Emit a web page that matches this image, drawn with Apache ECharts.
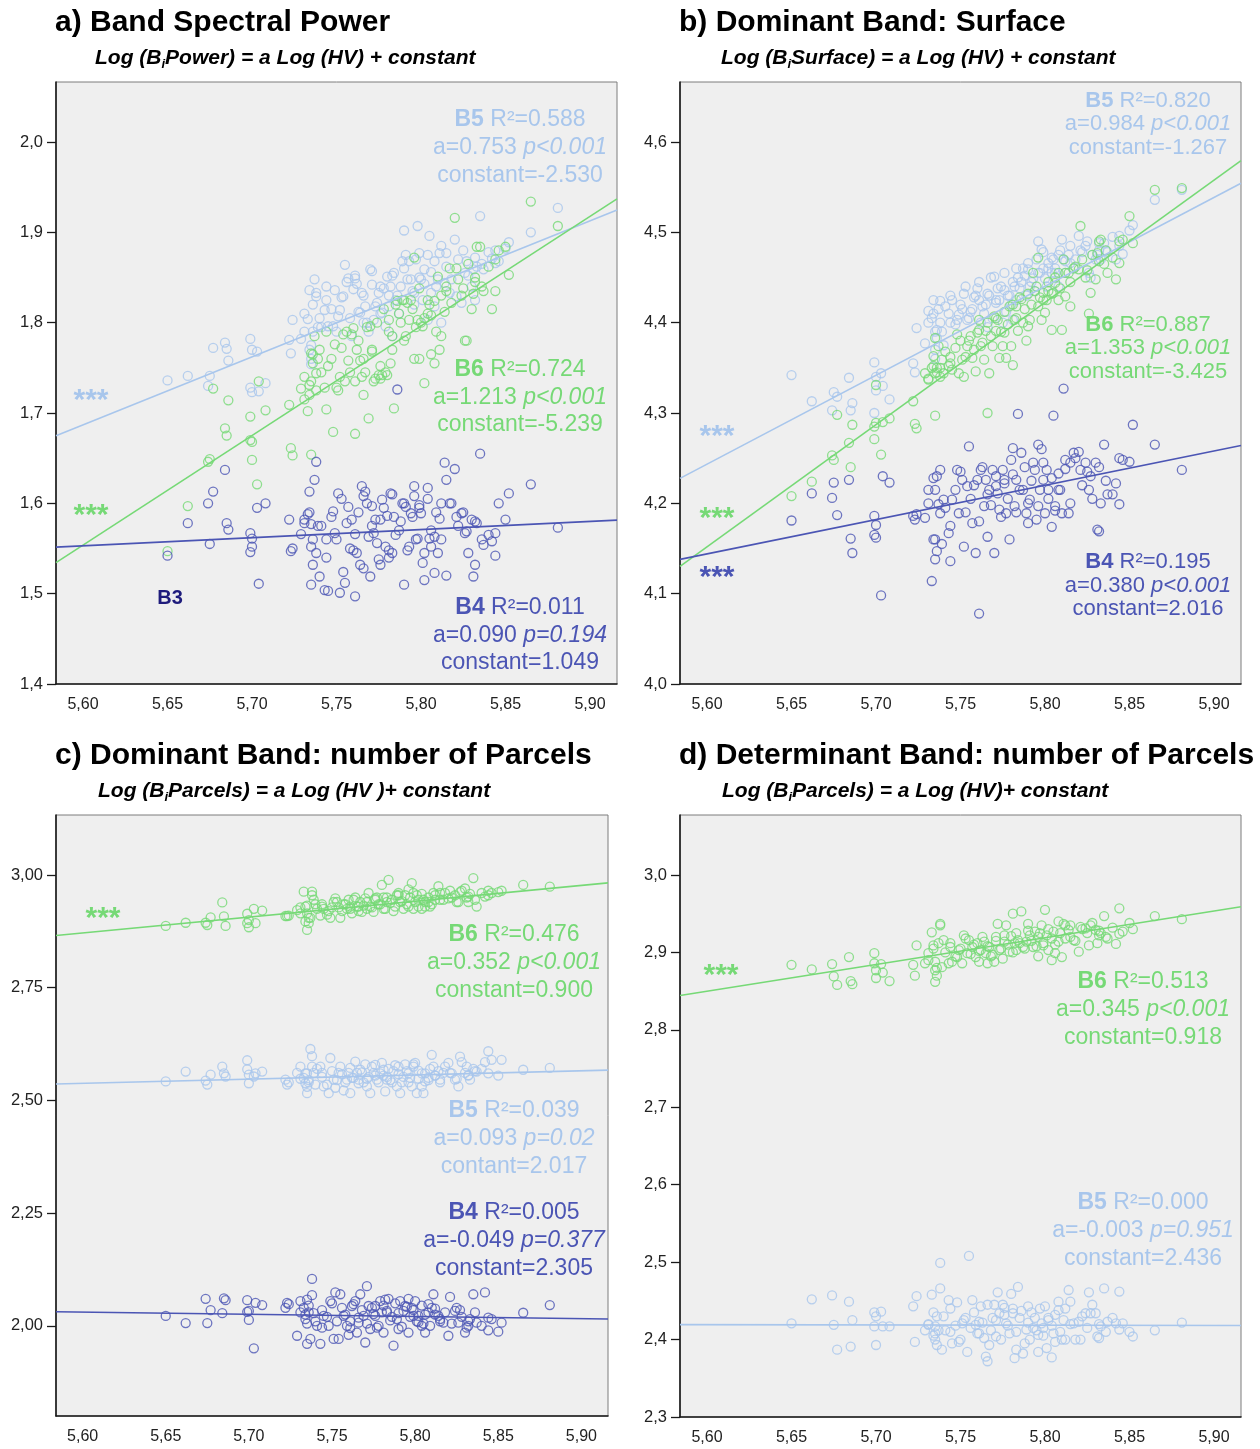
<!DOCTYPE html>
<html><head><meta charset="utf-8">
<script src="https://cdn.jsdelivr.net/npm/echarts@6/dist/echarts.min.js"></script>
<style>html,body{margin:0;padding:0;background:#fff}#c{width:1260px;height:1449px}</style>
</head><body><div id="c"></div>
<script>
// ---- shared HV values (x) ----
const hv = [
5.650,5.662,5.674,5.675,5.677,5.684,5.685,5.686,
5.699,5.699,5.700,5.700,5.703,5.704,5.708,
5.722,5.723,5.724,5.729,5.731,5.733,5.734,5.735,5.735,5.735,5.736,5.737,5.738,5.738,5.739,
5.740,5.743,5.744,5.745,5.748,5.749,5.751,5.752,5.754,5.755,5.757,5.759,5.760,5.761,5.762,5.764,5.765,5.766,5.767,5.769,
5.770,5.771,5.772,5.773,5.775,5.776,5.777,5.779,5.780,5.781,5.782,5.783,5.784,5.786,5.787,5.789,
5.790,5.791,5.793,5.794,5.796,5.796,5.798,5.799,5.800,5.801,5.802,5.804,5.805,5.806,5.808,5.808,
5.810,5.811,5.812,5.814,5.815,5.817,5.820,5.821,5.824,5.826,5.827,5.830,5.831,5.832,5.833,5.835,5.837,
5.842,5.844,5.844,5.846,5.850,5.852,5.865,5.881,
5.731,5.734,5.736,5.741,5.744,5.747,5.750,5.753,5.756,5.758,5.761,5.763,5.766,5.768,5.771,5.774,5.776,5.778,5.781,5.783,
5.785,5.788,5.790,5.792,5.795,5.797,5.799,5.802,5.804,5.806,5.809,5.812,5.815,5.818,5.822,5.825,5.828,5.832,5.836,5.840];

// ---- a) Band Spectral Power ----
const powerB4 = [
1.542,1.578,1.600,1.555,1.613,1.637,1.578,1.571,
1.567,1.546,1.561,1.552,1.595,1.511,1.600,
1.582,1.547,1.550,1.566,1.582,1.588,1.613,1.510,1.552,1.577,1.532,1.626,1.646,1.545,1.575,
1.519,1.504,1.560,1.503,1.591,1.567,1.611,1.501,1.524,1.512,1.596,1.582,1.548,1.497,1.545,1.532,1.619,1.608,1.613,1.563,
1.519,1.597,1.567,1.582,1.538,1.532,1.604,1.552,1.586,1.548,1.611,1.545,1.585,1.726,1.570,1.600,
1.510,1.596,1.552,1.589,1.619,1.608,1.561,1.595,1.589,1.534,1.515,1.617,1.561,1.552,1.563,1.523,
1.545,1.583,1.600,1.645,1.626,1.600,1.638,1.585,1.589,1.567,1.569,1.582,1.519,1.532,1.578,1.655,1.554,
1.558,1.567,1.542,1.600,1.582,1.611,1.621,1.573,
1.578,1.590,1.560,1.575,1.540,1.585,1.560,1.605,1.578,1.550,1.566,1.590,1.528,1.600,1.575,1.556,1.582,1.595,1.540,1.610,
1.565,1.580,1.600,1.548,1.585,1.560,1.598,1.545,1.605,1.570,1.590,1.560,1.520,1.600,1.575,1.590,1.545,1.580,1.560,1.565];
const powerB5 = [
1.736,1.741,1.730,1.741,1.772,1.778,1.771,1.758,
1.782,1.728,1.770,1.723,1.768,1.724,1.733,
1.781,1.766,1.803,1.782,1.790,1.804,1.836,1.754,1.775,1.760,1.790,1.848,1.833,1.829,1.795,
1.805,1.814,1.825,1.796,1.796,1.836,1.807,1.814,1.829,1.864,1.849,1.785,1.837,1.849,1.843,1.811,1.833,1.800,1.818,1.790,
1.859,1.857,1.803,1.818,1.833,1.840,1.811,1.796,1.851,1.818,1.840,1.785,1.855,1.830,1.810,1.868,
1.902,1.875,1.868,1.848,1.833,1.820,1.907,1.877,1.848,1.825,1.859,1.803,1.896,1.833,1.818,1.868,
1.848,1.877,1.800,1.844,1.877,1.833,1.892,1.829,1.822,1.855,1.868,1.840,1.859,1.825,1.862,1.918,1.859,
1.871,1.880,1.866,1.868,1.882,1.889,1.900,1.927,
1.810,1.770,1.820,1.795,1.840,1.815,1.790,1.828,1.845,1.805,1.852,1.812,1.830,1.800,1.842,1.822,1.810,1.838,1.830,1.852,
1.825,1.840,1.860,1.848,1.835,1.870,1.850,1.843,1.875,1.856,1.840,1.885,1.862,1.848,1.870,1.880,1.852,1.872,1.865,1.878];
const powerB6 = [
1.547,1.597,1.646,1.649,1.727,1.683,1.675,1.714,
1.696,1.670,1.648,1.668,1.621,1.735,1.703,
1.709,1.661,1.653,1.727,1.715,1.702,1.731,1.654,1.766,1.735,1.755,1.785,1.744,1.725,1.760,
1.770,1.728,1.704,1.752,1.679,1.776,1.725,1.740,1.787,1.735,1.758,1.787,1.794,1.677,1.770,1.758,1.740,1.720,1.745,1.694,
1.796,1.770,1.735,1.738,1.742,1.738,1.742,1.745,1.742,1.803,1.755,1.785,1.705,1.824,1.810,1.825,
1.825,1.785,1.803,1.825,1.760,1.872,1.803,1.760,1.800,1.796,1.733,1.810,1.820,1.765,1.824,1.755,
1.851,1.770,1.785,1.812,1.835,1.860,1.916,1.860,1.830,1.780,1.780,1.815,1.832,1.845,1.884,1.884,1.835,
1.815,1.835,1.870,1.880,1.884,1.853,1.934,1.907,
1.740,1.720,1.765,1.745,1.790,1.760,1.728,1.772,1.790,1.745,1.735,1.780,1.760,1.795,1.768,1.800,1.752,1.815,1.790,1.770,
1.820,1.800,1.780,1.822,1.815,1.795,1.838,1.805,1.825,1.808,1.790,1.830,1.840,1.822,1.848,1.838,1.865,1.850,1.840,1.862];

// ---- b) Dominant Band: Surface ----
const surfB4 = [
4.181,4.211,4.206,4.223,4.187,4.226,4.161,4.145,
4.186,4.165,4.176,4.162,4.098,4.230,4.223,
4.186,4.182,4.188,4.184,4.215,4.114,4.228,4.138,4.160,4.215,4.147,4.199,4.237,4.189,4.155,
4.204,4.167,4.136,4.204,4.237,4.189,4.226,4.152,4.219,4.263,4.178,4.145,4.226,4.078,4.237,4.197,4.226,4.163,4.215,4.237,
4.145,4.219,4.211,4.193,4.237,4.226,4.189,4.160,4.248,4.261,4.197,4.226,4.299,4.256,4.215,4.189,
4.178,4.204,4.245,4.237,4.265,4.197,4.260,4.226,4.189,4.237,4.215,4.174,4.297,4.197,4.215,4.233,
4.189,4.327,4.248,4.189,4.245,4.256,4.257,4.237,4.245,4.215,4.230,4.245,4.171,4.169,4.200,4.265,4.210,
4.222,4.250,4.199,4.248,4.246,4.287,4.265,4.237,
4.200,4.160,4.230,4.195,4.175,4.215,4.235,4.190,4.205,4.220,4.180,4.240,4.210,4.198,4.230,4.185,4.222,4.205,4.232,4.190,
4.215,4.240,4.200,4.225,4.182,4.215,4.245,4.205,4.228,4.192,4.215,4.238,4.200,4.250,4.220,4.235,4.205,4.240,4.225,4.210];
const surfB5 = [
4.342,4.313,4.303,4.323,4.318,4.339,4.303,4.311,
4.356,4.300,4.325,4.340,4.344,4.330,4.315,
4.355,4.345,4.394,4.377,4.413,4.405,4.425,4.390,4.360,4.370,4.383,4.415,4.424,4.400,4.390,
4.375,4.410,4.400,4.425,4.403,4.409,4.415,4.432,4.403,4.405,4.415,4.430,4.438,4.425,4.400,4.410,4.420,4.395,4.430,4.405,
4.451,4.422,4.438,4.425,4.400,4.436,4.412,4.430,4.420,4.403,4.440,4.425,4.450,4.445,4.460,4.430,
4.459,4.440,4.449,4.435,4.490,4.455,4.481,4.460,4.449,4.440,4.466,4.455,4.470,4.460,4.440,4.475,
4.492,4.470,4.455,4.475,4.466,4.460,4.496,4.480,4.485,4.455,4.450,4.470,4.475,4.480,4.470,4.488,4.478,
4.470,4.496,4.485,4.476,4.502,4.508,4.536,4.547,
4.400,4.410,4.392,4.418,4.430,4.398,4.420,4.440,4.412,4.428,4.445,4.418,4.432,4.450,4.425,4.440,4.455,4.430,4.445,4.460,
4.438,4.452,4.466,4.445,4.470,4.455,4.478,4.460,4.472,4.455,4.480,4.468,4.485,4.470,4.478,4.490,4.475,4.488,4.480,4.495];
const surfB6 = [
4.208,4.224,4.253,4.248,4.298,4.267,4.240,4.287,
4.285,4.271,4.289,4.331,4.254,4.290,4.294,
4.313,4.288,4.283,4.344,4.337,4.350,4.363,4.297,4.383,4.344,4.350,4.374,4.340,4.350,4.359,
4.344,4.352,4.362,4.348,4.387,4.344,4.359,4.340,4.374,4.380,4.361,4.346,4.389,4.403,4.374,4.359,4.391,4.300,4.344,4.374,
4.407,4.391,4.403,4.361,4.374,4.389,4.361,4.418,4.374,4.353,4.403,4.418,4.391,4.426,4.400,4.380,
4.396,4.403,4.455,4.435,4.418,4.472,4.403,4.433,4.411,4.425,4.435,4.392,4.433,4.444,4.425,4.455,
4.392,4.470,4.429,4.455,4.418,4.460,4.459,4.507,4.450,4.410,4.433,4.448,4.477,4.490,4.492,4.465,4.455,
4.448,4.466,4.490,4.492,4.518,4.488,4.547,4.549,
4.338,4.352,4.345,4.368,4.355,4.372,4.380,4.362,4.385,4.370,4.392,4.378,4.400,4.385,4.405,4.390,4.412,4.398,4.420,4.405,
4.428,4.415,4.432,4.420,4.440,4.428,4.425,4.445,4.432,4.450,4.438,4.455,4.445,4.462,4.470,4.458,4.475,4.468,4.480,4.472];

// ---- c) Dominant Band: number of Parcels ----
const parcB4 = [
2.022,2.006,2.060,2.006,2.035,2.028,2.061,2.057,
2.057,2.031,2.013,2.033,1.950,2.051,2.046,
2.040,2.051,2.048,1.978,2.055,2.040,2.025,2.058,1.960,2.005,2.030,1.971,2.104,2.068,2.028,
2.010,1.960,1.996,2.022,2.000,2.055,1.971,2.074,1.971,2.070,2.022,2.000,1.980,2.010,2.044,2.055,1.985,2.007,2.070,2.022,
1.963,2.088,2.044,1.993,2.026,2.044,1.996,2.055,2.030,1.985,2.058,2.033,2.060,2.020,1.956,2.015,
1.993,2.055,2.033,2.044,1.985,2.060,2.040,2.022,2.055,2.010,2.022,2.000,2.005,1.985,2.030,2.048,
2.040,2.070,2.025,2.022,2.010,2.007,1.978,2.064,2.033,2.007,2.035,1.985,1.996,2.000,2.015,2.070,2.007,
2.074,2.018,1.990,2.015,1.987,2.007,2.029,2.046,
2.030,2.015,2.045,2.000,2.035,2.020,2.050,2.010,2.040,2.025,1.995,2.048,2.018,2.035,2.005,2.040,2.022,2.000,2.045,2.030,
2.012,2.050,2.028,1.998,2.042,2.020,2.035,2.008,2.045,2.025,2.000,2.038,2.015,2.030,2.005,2.040,2.020,2.010,2.030,2.000];
const parcB5 = [
2.542,2.564,2.544,2.535,2.557,2.575,2.560,2.553,
2.589,2.569,2.538,2.557,2.553,2.560,2.564,
2.546,2.535,2.540,2.561,2.575,2.550,2.538,2.516,2.560,2.530,2.545,2.614,2.598,2.575,2.561,
2.535,2.575,2.561,2.531,2.516,2.594,2.546,2.528,2.561,2.575,2.522,2.546,2.561,2.516,2.550,2.586,2.561,2.546,2.568,2.540,
2.580,2.531,2.552,2.516,2.561,2.579,2.546,2.560,2.583,2.555,2.520,2.546,2.570,2.540,2.565,2.531,
2.575,2.516,2.552,2.580,2.540,2.560,2.531,2.575,2.583,2.516,2.566,2.531,2.516,2.560,2.550,2.545,
2.601,2.575,2.555,2.565,2.546,2.561,2.583,2.561,2.546,2.531,2.597,2.561,2.575,2.556,2.546,2.570,2.564,
2.585,2.609,2.560,2.590,2.555,2.590,2.568,2.572,
2.548,2.560,2.540,2.570,2.552,2.535,2.565,2.545,2.558,2.540,2.572,2.550,2.538,2.562,2.548,2.575,2.555,2.540,2.568,2.552,
2.545,2.578,2.558,2.540,2.565,2.550,2.580,2.548,2.560,2.542,2.570,2.555,2.540,2.575,2.560,2.548,2.585,2.555,2.565,2.570];
const parcB6 = [
2.887,2.894,2.894,2.889,2.906,2.939,2.908,2.887,
2.914,2.893,2.884,2.900,2.925,2.893,2.921,
2.909,2.909,2.910,2.922,2.928,2.963,2.897,2.932,2.878,2.915,2.893,2.905,2.963,2.955,2.945,
2.935,2.910,2.930,2.925,2.920,2.905,2.940,2.948,2.928,2.905,2.935,2.925,2.945,2.930,2.915,2.950,2.930,2.920,2.940,2.932,
2.948,2.925,2.960,2.930,2.918,2.945,2.950,2.935,2.978,2.950,2.925,2.940,2.989,2.945,2.920,2.955,
2.960,2.940,2.925,2.955,2.930,2.968,2.982,2.960,2.940,2.955,2.930,2.925,2.945,2.930,2.950,2.940,
2.935,2.960,2.945,2.975,2.960,2.945,2.948,2.965,2.955,2.940,2.962,2.970,2.950,2.940,2.958,2.993,2.930,
2.952,2.965,2.955,2.960,2.962,2.965,2.978,2.974,
2.915,2.930,2.905,2.925,2.935,2.912,2.928,2.940,2.920,2.935,2.925,2.945,2.930,2.918,2.940,2.928,2.948,2.935,2.925,2.950,
2.938,2.930,2.955,2.942,2.935,2.950,2.925,2.945,2.958,2.940,2.930,2.955,2.945,2.960,2.950,2.940,2.965,2.952,2.945,2.960];

// ---- d) Determinant Band: number of Parcels ----
const detB5 = [
2.421,2.452,2.457,2.419,2.387,2.449,2.391,2.425,
2.435,2.417,2.393,2.430,2.436,2.417,2.417,
2.443,2.397,2.456,2.412,2.419,2.458,2.435,2.417,2.400,2.408,2.393,2.412,2.466,2.499,2.387,
2.430,2.451,2.410,2.395,2.448,2.397,2.421,2.425,2.384,2.508,2.451,2.419,2.408,2.423,2.443,2.402,2.378,2.372,2.393,2.428,
2.445,2.404,2.461,2.434,2.445,2.441,2.421,2.408,2.459,2.434,2.376,2.387,2.468,2.437,2.382,2.413,
2.443,2.400,2.415,2.428,2.384,2.406,2.421,2.415,2.443,2.389,2.428,2.377,2.408,2.397,2.438,2.449,
2.400,2.425,2.400,2.464,2.449,2.421,2.423,2.400,2.434,2.461,2.434,2.434,2.404,2.402,2.417,2.466,2.423,
2.421,2.462,2.413,2.421,2.410,2.404,2.412,2.422,
2.420,2.405,2.430,2.412,2.440,2.418,2.400,2.428,2.415,2.435,2.408,2.422,2.445,2.412,2.425,2.400,2.432,2.418,2.440,2.410,
2.428,2.395,2.422,2.435,2.412,2.440,2.405,2.425,2.418,2.432,2.410,2.440,2.420,2.400,2.430,2.415,2.445,2.420,2.410,2.428];
const detB6 = [
2.884,2.878,2.885,2.869,2.858,2.894,2.863,2.859,
2.899,2.886,2.877,2.867,2.885,2.874,2.863,
2.884,2.870,2.909,2.886,2.899,2.926,2.909,2.888,2.877,2.862,2.870,2.912,2.937,2.935,2.881,
2.916,2.886,2.907,2.888,2.894,2.903,2.886,2.922,2.899,2.916,2.907,2.894,2.912,2.888,2.903,2.914,2.899,2.886,2.907,2.897,
2.888,2.920,2.937,2.903,2.892,2.914,2.935,2.901,2.921,2.950,2.912,2.903,2.916,2.953,2.907,2.914,
2.937,2.922,2.907,2.927,2.895,2.920,2.935,2.909,2.955,2.922,2.903,2.890,2.927,2.899,2.940,2.914,
2.894,2.937,2.918,2.929,2.935,2.916,2.901,2.933,2.931,2.909,2.935,2.929,2.912,2.922,2.925,2.947,2.918,
2.911,2.957,2.924,2.927,2.938,2.930,2.947,2.943,
2.890,2.905,2.880,2.900,2.912,2.895,2.905,2.918,2.898,2.910,2.902,2.920,2.908,2.895,2.915,2.905,2.922,2.910,2.900,2.925,
2.912,2.905,2.928,2.915,2.908,2.925,2.912,2.930,2.918,2.910,2.925,2.935,2.920,2.915,2.930,2.925,2.938,2.928,2.920,2.932];

// ---- regression fits [a, constant] ----
const fitPowerB4 = [0.090, 1.049], fitPowerB5 = [0.753, -2.530], fitPowerB6 = [1.213, -5.239];
const fitSurfB4 = [0.380, 2.016], fitSurfB5 = [0.984, -1.267], fitSurfB6 = [1.353, -3.425];
const fitParcB4 = [-0.049, 2.305], fitParcB5 = [0.093, 2.017], fitParcB6 = [0.352, 0.900];
const fitDetB5 = [-0.003, 2.436], fitDetB6 = [0.345, 0.918];

// ---- tick labels ----
const xTicks = [5.60, 5.65, 5.70, 5.75, 5.80, 5.85, 5.90];
const yTicksA = [1.4, 1.5, 1.6, 1.7, 1.8, 1.9, 2.0];
const yTicksB = [4.0, 4.1, 4.2, 4.3, 4.4, 4.5, 4.6];
const yTicksC = [2.00, 2.25, 2.50, 2.75, 3.00];
const yTicksD = [2.3, 2.4, 2.5, 2.6, 2.7, 2.8, 2.9, 3.0];

// ---- texts ----
const titleTexts = ['a) Band Spectral Power', 'b) Dominant Band: Surface',
  'c) Dominant Band: number of Parcels', 'd) Determinant Band: number of Parcels'];
const subtitleParts = [['Log (B', 'i', 'Power) = a Log (HV) + constant'],
  ['Log (B', 'i', 'Surface) = a Log (HV) + constant'],
  ['Log (B', 'i', 'Parcels) = a Log (HV )+ constant'],
  ['Log (B', 'i', 'Parcels) = a Log (HV)+ constant']];
const notePower = [['B5', 'R²=0.588', 'a=0.753', 'p<0.001', 'constant=-2.530'],
  ['B6', 'R²=0.724', 'a=1.213', 'p<0.001', 'constant=-5.239'],
  ['B4', 'R²=0.011', 'a=0.090', 'p=0.194', 'constant=1.049']];
const noteSurf = [['B5', 'R²=0.820', 'a=0.984', 'p<0.001', 'constant=-1.267'],
  ['B6', 'R²=0.887', 'a=1.353', 'p<0.001', 'constant=-3.425'],
  ['B4', 'R²=0.195', 'a=0.380', 'p<0.001', 'constant=2.016']];
const noteParc = [['B6', 'R²=0.476', 'a=0.352', 'p<0.001', 'constant=0.900'],
  ['B5', 'R²=0.039', 'a=0.093', 'p=0.02', 'contant=2.017'],
  ['B4', 'R²=0.005', 'a=-0.049', 'p=0.377', 'constant=2.305']];
const noteDet = [['B6', 'R²=0.513', 'a=0.345', 'p<0.001', 'constant=0.918'],
  ['B5', 'R²=0.000', 'a=-0.003', 'p=0.951', 'constant=2.436']];

// ---- styling / layout ----
const C4 = '#4b55b4', C5 = '#a8c6ec', C6 = '#76d976', C3 = '#1f1c7c';
const FONT = '"Liberation Sans", Arial, Helvetica, sans-serif';
const X_MIN = 5.584, X_MAX = 5.916;
const grids = [
  {left: 56, top: 82, width: 561, height: 602},
  {left: 680, top: 82, width: 561, height: 602},
  {left: 56, top: 815, width: 552, height: 601},
  {left: 680, top: 815, width: 561, height: 602}];
const yRanges = [[1.4, 2.0664], [4.0, 4.6664], [1.8, 3.133], [2.3, 3.0775]];
const yTickSets = [yTicksA, yTicksB, yTicksC, yTicksD];
const yDec = [1, 1, 2, 1];

const fmt = (v, d) => v.toFixed(d).replace('.', ',');

const option = {
  animation: false,
  backgroundColor: '#ffffff',
  grid: grids.map(g => Object.assign({}, g, {
    show: true, backgroundColor: '#efefef', borderColor: '#7d7d7d', borderWidth: 1,
    containLabel: false, outerBoundsMode: 'none'})),
  xAxis: grids.map((g, i) => ({
    type: 'value', gridIndex: i, min: X_MIN, max: X_MAX,
    axisLine: {show: true, onZero: false, lineStyle: {color: '#1a1a1a', width: 1.6}},
    axisTick: {show: false},
    splitLine: {show: false},
    axisLabel: {customValues: xTicks, formatter: v => fmt(v, 2), fontFamily: FONT, fontSize: 16,
      color: '#222', margin: 13}
  })),
  yAxis: grids.map((g, i) => ({
    type: 'value', gridIndex: i, min: yRanges[i][0], max: yRanges[i][1],
    axisLine: {show: true, onZero: false, lineStyle: {color: '#1a1a1a', width: 1.6}},
    axisTick: {show: true, length: 9, customValues: yTickSets[i], lineStyle: {color: '#1a1a1a', width: 1.3}},
    splitLine: {show: false},
    axisLabel: {customValues: yTickSets[i], formatter: v => fmt(v, yDec[i]), fontFamily: FONT,
      fontSize: 16.5, color: '#222', margin: 13}
  })),
  series: [],
  graphic: {elements: []}
};

function scatter(gi, ys, col) {
  return {type: 'scatter', xAxisIndex: gi, yAxisIndex: gi, silent: true, z: 2,
    data: hv.map((x, k) => [x, ys[k]]), symbol: 'circle', symbolSize: 9,
    itemStyle: {color: 'rgba(0,0,0,0)', borderColor: col, borderWidth: 1.3}};
}
function fitLine(gi, ab, col) {
  return {type: 'line', xAxisIndex: gi, yAxisIndex: gi, silent: true, z: 3, symbol: 'none',
    data: [[X_MIN, ab[0] * X_MIN + ab[1]], [X_MAX, ab[0] * X_MAX + ab[1]]],
    lineStyle: {color: col, width: 1.6}};
}
const S = option.series;
S.push(scatter(0, powerB5, C5), scatter(0, powerB6, C6), scatter(0, powerB4, C4));
S.push(fitLine(0, fitPowerB5, C5), fitLine(0, fitPowerB6, C6), fitLine(0, fitPowerB4, C4));
S.push(scatter(1, surfB5, C5), scatter(1, surfB6, C6), scatter(1, surfB4, C4));
S.push(fitLine(1, fitSurfB5, C5), fitLine(1, fitSurfB6, C6), fitLine(1, fitSurfB4, C4));
S.push(scatter(2, parcB6, C6), scatter(2, parcB5, C5), scatter(2, parcB4, C4));
S.push(fitLine(2, fitParcB6, C6), fitLine(2, fitParcB5, C5), fitLine(2, fitParcB4, C4));
S.push(scatter(3, detB6, C6), scatter(3, detB5, C5));
S.push(fitLine(3, fitDetB6, C6), fitLine(3, fitDetB5, C5));

const G = option.graphic.elements;
function text(x, y, str, st) {
  G.push({type: 'text', x: x, y: y, z: 100, silent: true,
    style: Object.assign({text: str, fontFamily: FONT, align: 'left', verticalAlign: 'middle',
      textAlign: 'left', textVerticalAlign: 'middle', fill: '#000'}, st)});
}
// titles
const titlePos = [[55, 23], [679, 23], [55, 756], [679, 756]];
const subPos = [[95, 58], [721, 58], [98, 791], [722, 791]];
titleTexts.forEach((t, i) => text(titlePos[i][0], titlePos[i][1], t,
  {fontSize: 30, fontWeight: 'bold', fill: '#000'}));
subtitleParts.forEach((p, i) => {
  text(subPos[i][0], subPos[i][1], '{m|' + p[0] + '}{s|' + p[1] + '}{m|' + p[2] + '}', {
    fontSize: 21, fontWeight: 'bold', fontStyle: 'italic',
    rich: {
      m: {fontFamily: FONT, fontSize: 21, fontWeight: 'bold', fontStyle: 'italic', fill: '#000', lineHeight: 26, verticalAlign: 'middle'},
      s: {fontFamily: FONT, fontSize: 13, fontWeight: 'bold', fontStyle: 'italic', fill: '#000', lineHeight: 26, verticalAlign: 'bottom'}
    }});
});
// annotations
const noteLayout = [
  {cx: 520, fs: 23, ys: [[120, 148, 176], [370, 398, 425], [608, 636, 663]], notes: notePower, cols: [C5, C6, C4]},
  {cx: 1148, fs: 22, ys: [[101, 124, 148], [325, 348, 372], [562, 586, 609]], notes: noteSurf, cols: [C5, C6, C4]},
  {cx: 514, fs: 23, ys: [[935, 963, 991], [1111, 1139, 1167], [1213, 1241, 1269]], notes: noteParc, cols: [C6, C5, C4]},
  {cx: 1143, fs: 23, ys: [[982, 1010, 1038], [1203, 1231, 1259]], notes: noteDet, cols: [C6, C5]}];
noteLayout.forEach(L => {
  L.notes.forEach((n, j) => {
    const col = L.cols[j];
    const base = {fontSize: L.fs, fill: col, align: 'center', textAlign: 'center'};
    const rich = {
      b: {fontFamily: FONT, fontSize: L.fs, fontWeight: 'bold', fill: col},
      r: {fontFamily: FONT, fontSize: L.fs, fill: col},
      i: {fontFamily: FONT, fontSize: L.fs, fontStyle: 'italic', fill: col}};
    text(L.cx, L.ys[j][0], '{b|' + n[0] + '}{r| ' + n[1] + '}', Object.assign({rich}, base));
    text(L.cx, L.ys[j][1], '{r|' + n[2] + ' }{i|' + n[3] + '}', Object.assign({rich}, base));
    text(L.cx, L.ys[j][2], n[4], base);
  });
});
// significance stars
const stars = [[91, 395, C5], [91, 510, C6], [717, 431, C5], [717, 513, C6], [717, 572, C4],
  [103, 913, C6], [721, 970, C6]];
stars.forEach(s => text(s[0], s[1] + 6, '***', {fontSize: 30, fontWeight: 'bold', fill: s[2], align: 'center', textAlign: 'center'}));
// B3 label
text(170, 598, 'B3', {fontSize: 20, fontWeight: 'bold', fill: C3, align: 'center', textAlign: 'center'});

const chart = echarts.init(document.getElementById('c'), null, {renderer: 'canvas'});
chart.setOption(option);
</script>
</body></html>
